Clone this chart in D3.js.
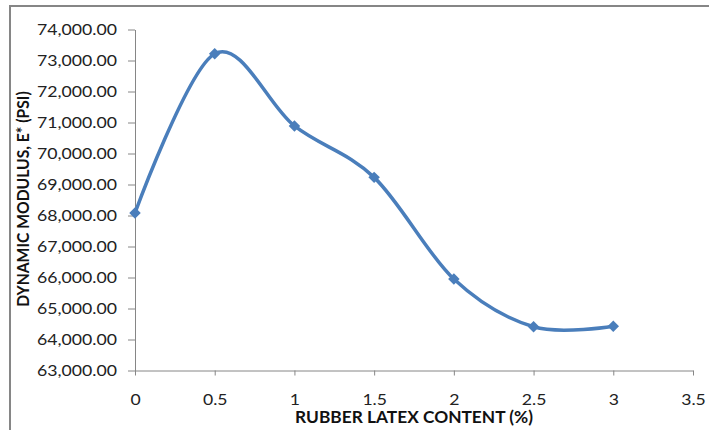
<!DOCTYPE html>
<html>
<head>
<meta charset="utf-8">
<script src="https://cdn.jsdelivr.net/npm/d3@7"></script>
<style>
  html, body { margin: 0; padding: 0; background: #fff; }
  svg { display: block; }
</style>
</head>
<body>
<script>
// Rubber latex content (%) against dynamic modulus E* (psi)
const latexContent = [0, 0.5, 1, 1.5, 2, 2.5, 3];
const dynamicModulus = [68080, 73220, 70890, 69230, 65950, 64410, 64430];
const yTickValues = [63000, 64000, 65000, 66000, 67000, 68000, 69000, 70000, 71000, 72000, 73000, 74000];
const xTickValues = [0, 0.5, 1, 1.5, 2, 2.5, 3, 3.5];
const xTitle = "RUBBER LATEX CONTENT (%)";
const yTitle = "DYNAMIC MODULUS, E* (PSI)";

const W = 709, H = 430;
const plot = { left: 135, right: 693, top: 29.5, bottom: 370.5 };
const axisColor = "#868686";
const lineColor = "#4a7ebb";
const font = "Lato, 'Open Sans', sans-serif";

const svg = d3.select("body").append("svg")
  .attr("width", W).attr("height", H);

svg.append("rect").attr("width", W).attr("height", H).attr("fill", "#fff");

// chart-area frame
svg.append("rect")
  .attr("x", 10).attr("y", 6)
  .attr("width", W + 20).attr("height", H + 20)
  .attr("fill", "none").attr("stroke", axisColor).attr("stroke-width", 2);

const x = d3.scaleLinear().domain([0, 3.5]).range([plot.left, plot.right]);
const y = d3.scaleLinear().domain([63000, 74000]).range([plot.bottom, plot.top]);

// horizontally widened glyphs
function widen(sel, k) {
  sel.each(function () {
    const t = d3.select(this);
    const x0 = +t.attr("x") || 0;
    t.attr("x", x0 / k).attr("transform", `scale(${k},1)`);
  });
}

// y axis
const yAxis = svg.append("g")
  .attr("transform", `translate(${plot.left},0)`)
  .call(d3.axisLeft(y).tickValues(yTickValues).tickSize(7).tickSizeOuter(0)
    .tickFormat(d3.format(",.2f")));
yAxis.select(".domain").attr("stroke", axisColor);
yAxis.selectAll(".tick line").attr("stroke", axisColor);
yAxis.selectAll(".tick text")
  .attr("x", -18).attr("dy", "0.36em")
  .attr("fill", "#222").attr("font-family", font).attr("font-size", 14.5);
widen(yAxis.selectAll(".tick text"), 1.22);

// x axis
const xAxis = svg.append("g")
  .attr("transform", `translate(0,${plot.bottom})`)
  .call(d3.axisBottom(x).tickValues(xTickValues).tickSize(5).tickSizeOuter(0)
    .tickFormat(d => String(d)));
xAxis.select(".domain").attr("stroke", axisColor);
xAxis.selectAll(".tick line").attr("stroke", axisColor);
xAxis.selectAll(".tick text")
  .attr("y", 34.5).attr("dy", 0)
  .attr("fill", "#222").attr("font-family", font).attr("font-size", 16);
widen(xAxis.selectAll(".tick text"), 1.1);
svg.selectAll(".domain, .tick line").attr("stroke-width", 1);
svg.selectAll("g").attr("font-family", null).attr("font-size", null);

// axis titles
const xt = svg.append("text")
  .attr("x", (plot.left + plot.right) / 2).attr("y", 423.5)
  .attr("text-anchor", "middle")
  .attr("font-family", font).attr("font-weight", "bold").attr("font-size", 16.5)
  .attr("fill", "#111").text(xTitle);
widen(xt, 1.05);

const ytG = svg.append("g")
  .attr("transform", `translate(29,${(plot.top + plot.bottom) / 2 - 1}) rotate(-90)`);
const yt = ytG.append("text")
  .attr("x", 0).attr("y", 0)
  .attr("text-anchor", "middle")
  .attr("font-family", font).attr("font-weight", "bold").attr("font-size", 16.5)
  .attr("fill", "#111").text(yTitle);
widen(yt, 0.95);

// smoothed series
const pts = latexContent.map((c, i) => [c, dynamicModulus[i]]);
const line = d3.line()
  .x(d => x(d[0])).y(d => y(d[1]))
  .curve(d3.curveCardinal.tension(0));

svg.append("path")
  .datum(pts)
  .attr("d", line)
  .attr("fill", "none")
  .attr("stroke", lineColor)
  .attr("stroke-width", 3.5)
  .attr("stroke-linejoin", "round")
  .attr("stroke-linecap", "round");

// diamond markers
svg.append("g").selectAll("path")
  .data(pts)
  .join("path")
  .attr("d", d3.symbol(d3.symbolSquare, 66)())
  .attr("transform", d => `translate(${x(d[0])},${y(d[1])}) rotate(45)`)
  .attr("fill", lineColor);
</script>
</body>
</html>
